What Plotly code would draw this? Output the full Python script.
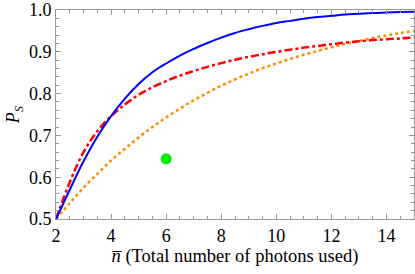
import plotly.graph_objects as go

n_vals = [2, 2.5, 3, 3.5, 4, 4.5, 5, 5.5, 6, 6.5, 7, 7.5, 8, 8.5, 9, 9.5,
          10, 10.5, 11, 11.5, 12, 12.5, 13, 13.5, 14, 14.5, 15]
p_blue = [0.5, 0.570, 0.638, 0.697, 0.746, 0.788, 0.823, 0.851, 0.872, 0.891, 0.907, 0.921, 0.934, 0.945,
          0.954, 0.962, 0.969, 0.974, 0.979, 0.983, 0.986, 0.989, 0.991, 0.993, 0.994, 0.995, 0.996]
p_red = [0.5, 0.588, 0.660, 0.710, 0.746, 0.774, 0.797, 0.815, 0.830, 0.843, 0.854, 0.864, 0.873, 0.881,
         0.888, 0.894, 0.900, 0.905, 0.910, 0.914, 0.918, 0.922, 0.925, 0.928, 0.930, 0.932, 0.934]
p_orange = [0.5, 0.538, 0.575, 0.608, 0.640, 0.668, 0.695, 0.720, 0.743, 0.764, 0.784, 0.802, 0.819, 0.834,
            0.848, 0.861, 0.872, 0.883, 0.893, 0.902, 0.911, 0.919, 0.926, 0.933, 0.939, 0.945, 0.950]

n_point = [6]
p_point = [0.644]

x_ticks = [2, 4, 6, 8, 10, 12, 14]
y_ticks = [0.5, 0.6, 0.7, 0.8, 0.9, 1.0]

SERIF = "Liberation Serif, Times New Roman, serif"

fig = go.Figure()
fig.add_trace(go.Scatter(x=n_vals, y=p_orange, mode="lines",
                         line=dict(color="#ff8c00", width=2.5, dash="3px,3px", shape="spline")))
fig.add_trace(go.Scatter(x=n_vals, y=p_red, mode="lines",
                         line=dict(color="#ff0000", width=2.5, dash="8px,3px,3px,3px", shape="spline")))
fig.add_trace(go.Scatter(x=n_vals, y=p_blue, mode="lines",
                         line=dict(color="#0000ff", width=2, shape="spline")))
fig.add_trace(go.Scatter(x=n_point, y=p_point, mode="markers",
                         marker=dict(color="#00ee00", size=11)))

axis_common = dict(
    showgrid=False, zeroline=False, showline=True, linecolor="#999999", linewidth=1,
    mirror="ticks", ticks="inside", ticklen=5, tickcolor="#999999", tickwidth=1,
    automargin=False, ticklabeloverflow="allow",
)

fig.update_layout(
    width=415, height=274,
    margin=dict(l=56, r=1, t=10, b=55),
    paper_bgcolor="white", plot_bgcolor="white",
    showlegend=False,
    font=dict(family=SERIF, color="#000000", size=18),
    xaxis=dict(range=[2, 15], tickvals=x_ticks, ticktext=[str(v) for v in x_ticks],
               tickfont=dict(family=SERIF, size=18, color="#000000"), ticklabelstandoff=0,
               minor=dict(dtick=0.5, tick0=2, ticklen=3, tickcolor="#999999", ticks="inside"),
               title=dict(text="<i>n\u0305</i> (Total number of photons used)",
                          font=dict(family=SERIF, size=18.5), standoff=4),
               **axis_common),
    yaxis=dict(range=[0.5, 1.0], tickvals=y_ticks, ticktext=[f"{v:.1f}" for v in y_ticks],
               tickfont=dict(family=SERIF, size=18, color="#000000"), ticklabelstandoff=0,
               minor=dict(dtick=0.02, tick0=0.5, ticklen=3, tickcolor="#999999", ticks="inside"),
               title=dict(text="<i>P</i><sub><i>S</i></sub>",
                          font=dict(family=SERIF, size=18), standoff=4),
               **axis_common),
)

fig.write_html("out.html", config={"displayModeBar": False},
               post_script="document.body.style.margin='0';")
